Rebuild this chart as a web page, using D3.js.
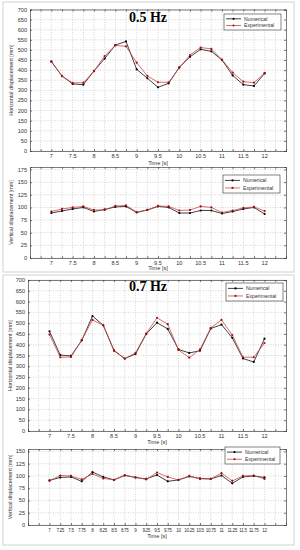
<!DOCTYPE html>
<html>
<head>
<meta charset="utf-8">
<script src="https://cdnjs.cloudflare.com/ajax/libs/d3/7.8.5/d3.min.js"></script>
<style>
  body { margin: 0; background: #fff; }
  svg text { font-family: "Liberation Sans", Arial, sans-serif; fill: #333; }
</style>
</head>
<body>
<script>
// time samples [s]
var times = [7, 7.25, 7.5, 7.75, 8, 8.25, 8.5, 8.75, 9, 9.25, 9.5, 9.75, 10, 10.25, 10.5, 10.75, 11, 11.25, 11.5, 11.75, 12];

// 0.5 Hz
var hNum05 = [442, 371, 332, 328, 396, 457, 524, 542, 404, 360, 315, 335, 414, 466, 503, 493, 450, 374, 328, 322, 384];
var hExp05 = [443, 370, 337, 338, 395, 470, 522, 518, 437, 372, 340, 340, 412, 475, 512, 505, 452, 388, 343, 338, 386];
var vNum05 = [89, 93, 97, 100, 92, 96, 101, 102, 90, 95, 102, 100, 89, 89, 94, 94, 88, 92, 97, 100, 87];
var vExp05 = [92, 97, 100, 102, 95, 95, 103, 104, 91, 95, 103, 102, 94, 95, 102, 100, 90, 94, 99, 101, 93];

// 0.7 Hz
var hNum07 = [462, 352, 348, 420, 533, 490, 372, 336, 357, 450, 502, 473, 378, 362, 372, 475, 493, 432, 336, 320, 428];
var hExp07 = [447, 342, 343, 422, 515, 490, 375, 335, 362, 452, 525, 495, 376, 340, 378, 478, 515, 445, 342, 342, 408];
var vNum07 = [91, 97, 98, 89, 108, 98, 92, 101, 97, 94, 102, 89, 92, 99, 95, 94, 101, 85, 98, 100, 97];
var vExp07 = [90, 101, 100, 93, 104, 95, 92, 102, 97, 93, 107, 98, 92, 100, 94, 94, 106, 90, 100, 101, 94];

// tick labels
var xTicks = [6.75, 7, 7.25, 7.5, 7.75, 8, 8.25, 8.5, 8.75, 9, 9.25, 9.5, 9.75, 10, 10.25, 10.5, 10.75, 11, 11.25, 11.5, 11.75, 12, 12.25];
var xLabelsHalf = [7, 7.5, 8, 8.5, 9, 9.5, 10, 10.5, 11, 11.5, 12];
var xLabelsQuarter = times;
var yTicksH = [0, 50, 100, 150, 200, 250, 300, 350, 400, 450, 500, 550, 600, 650, 700];
var yTicksV05 = [0, 25, 50, 75, 100, 125, 150, 175];
var yTicksV07 = [0, 25, 50, 75, 100, 125, 150];

var seriesNames = ["Numerical", "Experimental"];

var svg = d3.select("body").append("svg")
    .attr("width", 300).attr("height", 550);

// panel frames
[[3, 2], [3, 275]].forEach(function(p) {
  svg.append("rect").attr("x", p[0]).attr("y", p[1]).attr("width", 291).attr("height", 270)
    .attr("fill", "#fff").attr("stroke", "#d2d2d2").attr("stroke-width", 1);
});

function drawPlot(c) {
  var x = d3.scaleLinear().domain([6.5, 12.5]).range([c.left, c.right]);
  var y = d3.scaleLinear().domain(c.yDomain).range([c.bottom, c.top]);
  var g = svg.append("g");

  // grid
  g.selectAll(".gx").data(xTicks).enter().append("line")
    .attr("x1", function(d) { return x(d); }).attr("x2", function(d) { return x(d); })
    .attr("y1", c.top).attr("y2", c.bottom)
    .attr("stroke", "#b8b8b8").attr("stroke-width", 0.6).attr("stroke-dasharray", "1,1.5");
  g.selectAll(".gy").data(c.yTicks).enter().append("line")
    .attr("x1", c.left).attr("x2", c.right)
    .attr("y1", function(d) { return y(d); }).attr("y2", function(d) { return y(d); })
    .attr("stroke", "#b8b8b8").attr("stroke-width", 0.6).attr("stroke-dasharray", "1,1.5");

  // axes (box with inward ticks)
  var axB = d3.axisBottom(x).tickValues(xTicks).tickSize(-2).tickFormat("");
  var axT = d3.axisTop(x).tickValues(xTicks).tickSize(-2).tickFormat("");
  var axL = d3.axisLeft(y).tickValues(c.yTicks).tickSize(-2).tickFormat("");
  var axR = d3.axisRight(y).tickValues(c.yTicks).tickSize(-2).tickFormat("");
  [[axB, "translate(0," + c.bottom + ")"], [axT, "translate(0," + c.top + ")"],
   [axL, "translate(" + c.left + ",0)"], [axR, "translate(" + c.right + ",0)"]].forEach(function(a) {
    var s = g.append("g").attr("transform", a[1]).call(a[0]);
    s.selectAll("path, line").attr("stroke", "#444").attr("stroke-width", 0.7);
  });

  // tick labels
  g.selectAll(".xl").data(c.xLabels).enter().append("text")
    .attr("x", function(d) { return x(d); }).attr("y", c.bottom + 6.8)
    .attr("text-anchor", "middle").attr("font-size", c.xFont)
    .attr("letter-spacing", c.xSpacing)
    .text(function(d) { return d; });
  g.selectAll(".yl").data(c.yTicks).enter().append("text")
    .attr("x", c.left - 3).attr("y", function(d) { return y(d) + 2; })
    .attr("text-anchor", "end").attr("font-size", 5.6)
    .text(function(d) { return d; });

  g.append("text").attr("x", (c.left + c.right) / 2).attr("y", c.bottom + c.timeDy)
    .attr("text-anchor", "middle").attr("font-size", 5.6).text("Time [s]");
  g.append("text")
    .attr("transform", "translate(" + c.ylabX + "," + (c.top + c.bottom) / 2 + ") rotate(-90)")
    .attr("text-anchor", "middle").attr("font-size", 5.4).text(c.ylabel);

  if (c.title) {
    g.append("text").attr("x", 148).attr("y", c.titleY)
      .attr("text-anchor", "middle").attr("font-size", 14).attr("font-weight", "bold")
      .style("font-family", "'Liberation Serif', 'Times New Roman', serif").style("fill", "#000")
      .text(c.title);
  }

  // series
  var line = d3.line().x(function(d, i) { return x(times[i]); }).y(function(d) { return y(d); });
  var styles = [{ line: "#111", dot: "#000" }, { line: "#d0484c", dot: "#9e1010" }];
  [c.num, c.exp].forEach(function(arr, k) {
    g.append("path").datum(arr).attr("d", line).attr("fill", "none")
      .attr("stroke", styles[k].line).attr("stroke-width", 0.8);
    g.selectAll(".d" + k).data(arr).enter().append("circle")
      .attr("cx", function(d, i) { return x(times[i]); })
      .attr("cy", function(d) { return y(d); })
      .attr("r", 1.1).attr("fill", styles[k].dot);
  });

  // legend
  var L = c.legend;
  g.append("rect").attr("x", L.x).attr("y", L.y).attr("width", L.w).attr("height", L.h)
    .attr("fill", "#fff").attr("stroke", "#333").attr("stroke-width", 0.6);
  seriesNames.forEach(function(name, k) {
    var ly = L.y + L.h * (k === 0 ? 0.3 : 0.72);
    g.append("line").attr("x1", L.x + 2).attr("x2", L.x + 17).attr("y1", ly).attr("y2", ly)
      .attr("stroke", styles[k].line).attr("stroke-width", 0.8);
    g.append("circle").attr("cx", L.x + 9.5).attr("cy", ly).attr("r", 1.1).attr("fill", styles[k].dot);
    g.append("text").attr("x", L.x + 20).attr("y", ly + 1.8).attr("font-size", 5.2).text(name);
  });
}

drawPlot({ left: 30, right: 286, top: 9.5, bottom: 151, yDomain: [0, 700], yTicks: yTicksH,
  xLabels: xLabelsHalf, xFont: 5.6, xSpacing: 0, timeDy: 13.5, ylabX: 13, ylabel: "Horizontal displacement [mm]",
  num: hNum05, exp: hExp05, legend: { x: 224, y: 14, w: 57, h: 16 }, title: "0.5 Hz", titleY: 22 });
drawPlot({ left: 30, right: 286, top: 167, bottom: 258, yDomain: [0, 180], yTicks: yTicksV05,
  xLabels: xLabelsHalf, xFont: 5.6, xSpacing: 0, timeDy: 11.5, ylabX: 13, ylabel: "Vertical displacement [mm]",
  num: vNum05, exp: vExp05, legend: { x: 223, y: 175, w: 57, h: 18 } });
drawPlot({ left: 28, right: 286, top: 280, bottom: 431, yDomain: [0, 700], yTicks: yTicksH,
  xLabels: xLabelsHalf, xFont: 5.6, xSpacing: 0, timeDy: 12.5, ylabX: 12, ylabel: "Horizontal displacement [mm]",
  num: hNum07, exp: hExp07, legend: { x: 226, y: 283, w: 57, h: 18 }, title: "0.7 Hz", titleY: 291 });
drawPlot({ left: 28, right: 286, top: 449, bottom: 525, yDomain: [0, 155], yTicks: yTicksV07,
  xLabels: xLabelsQuarter, xFont: 4.6, xSpacing: -0.3, timeDy: 12.5, ylabX: 12, ylabel: "Vertical displacement [mm]",
  num: vNum07, exp: vExp07, legend: { x: 225, y: 447, w: 55, h: 17 } });
</script>
</body>
</html>
